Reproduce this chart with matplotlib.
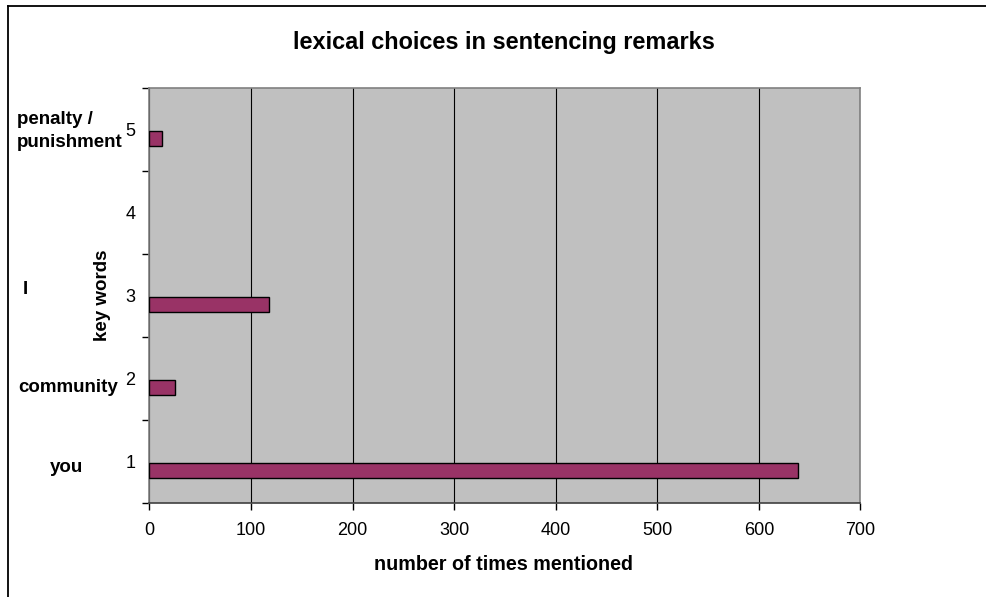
import numpy as np
import matplotlib.pyplot as plt
from matplotlib.lines import Line2D

plt.rcParams['font.family'] = ['Liberation Sans', 'DejaVu Sans']

# data
cats = [1, 2, 3, 4, 5]
words = ["you", "community", "I", "", "penalty /\npunishment"]
counts = [638, 25, 118, 0, 12]
xticks = [0, 100, 200, 300, 400, 500, 600, 700]

W, H = 987, 597
fig = plt.figure(figsize=(W / 100, H / 100), dpi=100)
ax = fig.add_axes([149.5 / W, 94 / H, 711 / W, 415 / H])
ax.set_facecolor('#C0C0C0')

y = np.array(cats) - 0.11
bars = ax.barh(y, counts, height=0.18, color='#993366', edgecolor='black', linewidth=1.0, zorder=3)
for b, c in zip(bars, counts):
    if c == 0:
        b.set_linewidth(0)  # empty category, no outline

ax.set_xlim(0, 700)
ax.set_ylim(0.5, 5.5)
ax.set_xticks(xticks)
ax.set_xticklabels([str(v) for v in xticks], fontsize=13)
ax.grid(axis='x', color='black', linewidth=0.8, zorder=1)
ax.set_axisbelow(True)

# y: labels at the middle, tick marks between categories
ax.set_yticks(cats)
ax.set_yticklabels([str(c) for c in cats], fontsize=13)
ax.set_yticks([0.5, 1.5, 2.5, 3.5, 4.5, 5.5], minor=True)
ax.tick_params(axis='y', which='major', length=0, pad=10)
ax.tick_params(axis='y', which='minor', length=5, width=1, color='black', direction='out')
ax.tick_params(axis='x', length=5, width=1, color='black', direction='out', pad=9)

for s in ['top', 'right', 'left']:
    ax.spines[s].set_color('#808080')
    ax.spines[s].set_linewidth(1.2)
ax.spines['bottom'].set_color('#404040')
ax.spines['bottom'].set_linewidth(1.2)

# titles
fig.text(504 / W, 1 - 42 / H, "lexical choices in sentencing remarks", ha='center', va='center',
         fontsize=16.9, fontweight='bold')
fig.text(504 / W, 1 - 565 / H, "number of times mentioned", ha='center', va='center',
         fontsize=14.2, fontweight='bold')
fig.text(103 / W, 1 - 295 / H, "key words", ha='center', va='center', rotation=90,
         fontsize=13.5, fontweight='bold')

# word labels at the left
word_pos = [(50, 467), (18, 388), (23, 290), (0, 0), (17, 131)]
for w, (px, py) in zip(words, word_pos):
    if w == "":
        continue
    fig.text(px / W, 1 - py / H, w, ha='left', va='center', fontsize=13.5,
             fontweight='bold', linespacing=1.4)

# outer frame (left and top only)
fig.add_artist(Line2D([8 / W, 8 / W], [0, 1 - 6 / H], transform=fig.transFigure, color='black', linewidth=1.3))
fig.add_artist(Line2D([8 / W, 1], [1 - 6 / H, 1 - 6 / H], transform=fig.transFigure, color='black', linewidth=1.3))

plt.savefig("out.png", dpi=100)
